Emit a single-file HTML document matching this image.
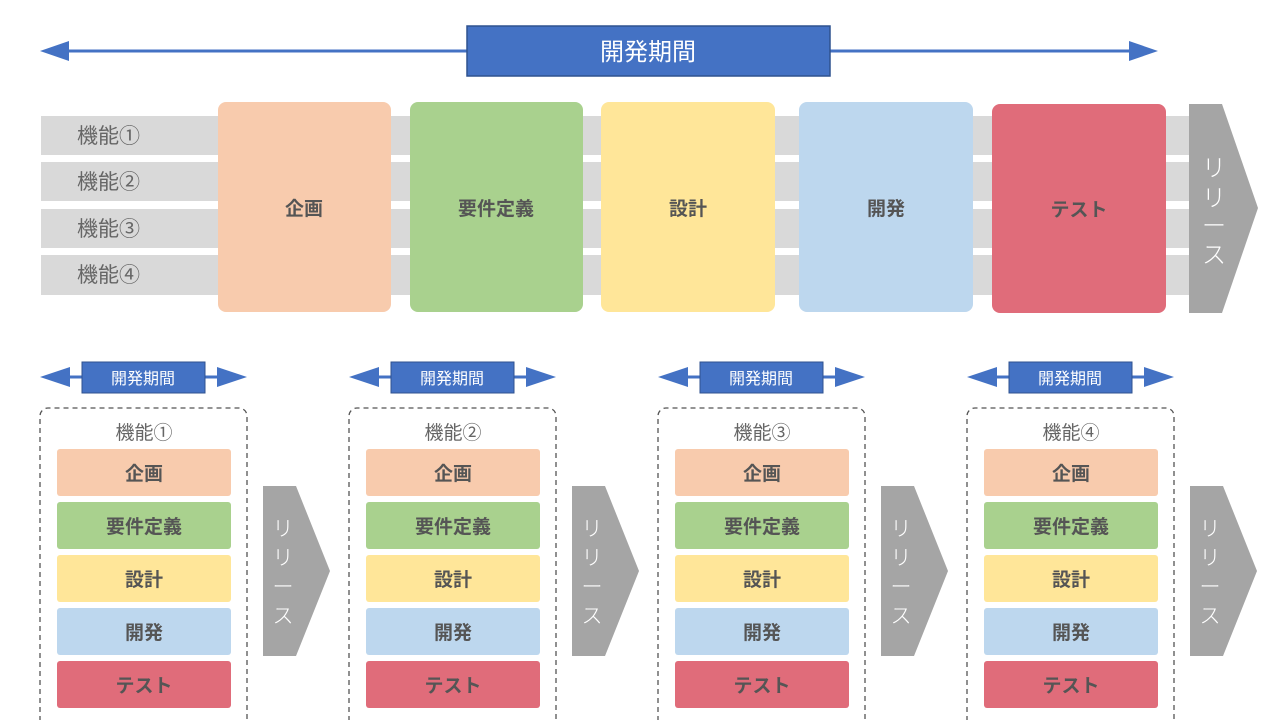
<!DOCTYPE html>
<html><head><meta charset="utf-8"><style>
html,body{margin:0;padding:0;background:#fff;}
svg{display:block;font-family:"Liberation Sans","Noto Sans CJK JP",sans-serif;}
.b{font-weight:bold;fill:#555;font-size:19px;}
.s{font-weight:bold;fill:#555;font-size:19px;}
.g{fill:#666;font-size:21px;}
.r{fill:#fff;font-weight:300;}
</style></head><body>
<svg width="1280" height="720" viewBox="0 0 1280 720">
<line x1="60" y1="51" x2="1140" y2="51" stroke="#4472C4" stroke-width="3"/>
<polygon points="40,51 69,41 69,61" fill="#4472C4"/>
<polygon points="1158,51 1129,41 1129,61" fill="#4472C4"/>
<rect x="467" y="26" width="363" height="50" fill="#4472C4" stroke="#2F528F" stroke-width="1.5"/>
<text x="648" y="60" text-anchor="middle" fill="#fff" font-size="24">開発期間</text>
<rect x="41" y="116" width="1149" height="39" fill="#D9D9D9"/>
<rect x="41" y="162" width="1149" height="39" fill="#D9D9D9"/>
<rect x="41" y="209" width="1149" height="39" fill="#D9D9D9"/>
<rect x="41" y="255" width="1149" height="40" fill="#D9D9D9"/>
<text x="77" y="143" class="g">機能①</text>
<text x="77" y="189" class="g">機能②</text>
<text x="77" y="236" class="g">機能③</text>
<text x="77" y="282" class="g">機能④</text>
<rect x="218" y="102" width="173" height="210" rx="8" fill="#F8CBAD"/>
<rect x="410" y="102" width="173" height="210" rx="8" fill="#A9D18E"/>
<rect x="601" y="102" width="174" height="210" rx="8" fill="#FFE699"/>
<rect x="799" y="102" width="174" height="210" rx="8" fill="#BDD7EE"/>
<rect x="992" y="104" width="174" height="209" rx="8" fill="#E06C7A"/>
<text x="304" y="215" text-anchor="middle" class="b">企画</text>
<text x="496" y="215" text-anchor="middle" class="b">要件定義</text>
<text x="688" y="215" text-anchor="middle" class="b">設計</text>
<text x="886" y="215" text-anchor="middle" class="b">開発</text>
<text x="1079" y="216" text-anchor="middle" class="b">テスト</text>
<polygon points="1189,104 1222,104 1258,208 1222,313 1189,313" fill="#A5A5A5"/>
<g class="r" font-size="24" text-anchor="middle">
<text x="1214" y="176">リ</text>
<text x="1214" y="206">リ</text>
<text x="1214" y="234">ー</text>
<text x="1214" y="263">ス</text>
</g>
<g id="grp">
<line x1="55" y1="377" x2="232" y2="377" stroke="#4472C4" stroke-width="3"/>
<polygon points="40,377 70,367 70,387" fill="#4472C4"/>
<polygon points="247,377 217,367 217,387" fill="#4472C4"/>
<rect x="82" y="362" width="123" height="31" fill="#4472C4" stroke="#2F528F" stroke-width="1"/>
<text x="143" y="384" text-anchor="middle" fill="#fff" font-size="16">開発期間</text>
<path d="M40,730 V416 a8,8 0 0 1 8,-8 H239 a8,8 0 0 1 8,8 V730" fill="none" stroke="#555" stroke-width="1.3" stroke-dasharray="5,4"/>
<rect x="57" y="449" width="174" height="47" rx="3" fill="#F8CBAD"/>
<rect x="57" y="502" width="174" height="47" rx="3" fill="#A9D18E"/>
<rect x="57" y="555" width="174" height="47" rx="3" fill="#FFE699"/>
<rect x="57" y="608" width="174" height="47" rx="3" fill="#BDD7EE"/>
<rect x="57" y="661" width="174" height="47" rx="3" fill="#E06C7A"/>
<text x="144" y="480" text-anchor="middle" class="s">企画</text>
<text x="144" y="533" text-anchor="middle" class="s">要件定義</text>
<text x="144" y="586" text-anchor="middle" class="s">設計</text>
<text x="144" y="639" text-anchor="middle" class="s">開発</text>
<text x="144" y="692" text-anchor="middle" class="s">テスト</text>
<polygon points="263,486 296,486 330,571 296,656 263,656" fill="#A5A5A5"/>
<g class="r" font-size="21" text-anchor="middle">
<text x="283" y="536">リ</text>
<text x="283" y="565">リ</text>
<text x="283" y="594">ー</text>
<text x="283" y="623">ス</text>
</g>
</g>
<text x="144" y="439" text-anchor="middle" fill="#666" font-size="19">機能①</text>
<use href="#grp" x="309"/><text x="453" y="439" text-anchor="middle" fill="#666" font-size="19">機能②</text>
<use href="#grp" x="618"/><text x="762" y="439" text-anchor="middle" fill="#666" font-size="19">機能③</text>
<use href="#grp" x="927"/><text x="1071" y="439" text-anchor="middle" fill="#666" font-size="19">機能④</text>
</svg>
</body></html>
